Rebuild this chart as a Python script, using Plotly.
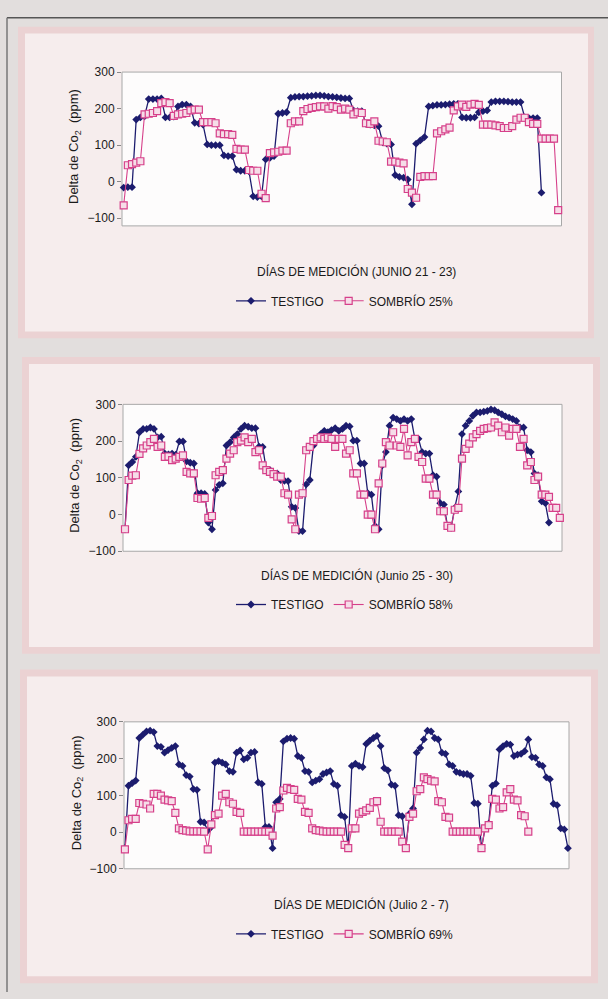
import plotly.graph_objects as go

# ---------------- data ----------------
p1_testigo = [-16, -15, -15, 170, 176, 179, 226, 226, 226, 228, 176, 176, 178, 206, 211, 211, 206,
              161, 159, 156, 102, 100, 100, 100, 72, 70, 70, 33, 30, 30, 28, -40, -42, -40, 61, 65, 70,
              186, 188, 190, 230, 232, 233, 233, 234, 235, 236, 236, 235, 233, 232, 231, 229, 228, 228,
              195, 193, 193, 158, 156, 154, 152, 108, 104, 102, 18, 13, 11, 6, -62, 104, 113, 122,
              206, 208, 210, 210, 211, 212, 213, 213, 176, 175, 175, 176, 190, 193, 195,
              218, 220, 220, 220, 219, 218, 218, 218, 176, 174, 174, 174, -30]
p1_sombrio = [-65, 45, 48, 52, 56, 184, 186, 188, 193, 215, 218, 215, 180, 184, 186, 188, 195, 197, 197,
              163, 163, 163, 160, 132, 130, 130, 128, 90, 88, 88, 32, 30, 30, -33, -45, 78, 80, 82, 85, 85,
              160, 165, 165, 193, 199, 202, 204, 206, 206, 200, 207, 204, 197, 200, 197, 184, 190, 188,
              160, 158, 165, 112, 110, 108, 55, 55, 52, 50, -20, -30, -44, 13, 15, 15, 15,
              132, 138, 143, 148, 195, 206, 211, 205, 211, 213, 210, 156, 156, 156, 154,
              152, 147, 147, 152, 170, 175, 175, 163, 158, 158, 118, 118, 118, 118, -78]

p2_testigo = [-40, 134, 143, 157, 224, 233, 233, 237, 233, 210, 212, 166, 164, 166, 163, 199, 199, 145,
              141, 139, 58, 58, 56, -22, -40, 67, 81, 85, 188, 197, 210, 219, 233, 242, 239, 235, 235,
              185, 184, 121, 121, 112, 112, 94, 92, 91, 21, 18, -45, -45, 82, 94, 188, 206, 219, 228,
              224, 230, 235, 228, 233,
              242, 240, 201, 201, 139, 139, 58, 54, -31, -40, 134, 170, 242, 264, 260, 255, 260, 255,
              260, 206, 206, 170, 166, 166, 107, 103, 31, 27, -31, -36, 18, 63, 219, 242, 255, 269, 278,
              278, 280, 282, 286, 284, 278, 273, 267, 264, 260, 255, 237, 237, 175, 170, 112, 107, 36,
              31, -22]
p2_sombrio = [-40, 94, 106, 107, 165, 180, 188, 197, 206, 184, 188, 157, 158, 148, 152, 157, 161, 116,
              112, 112, 45, 43, 45, -9, -4, 107, 116, 121, 152, 166, 175, 197, 201, 210, 197, 206, 170,
              175, 134, 121, 116, 110, 103, 103, 58, 54, -13, -40, 54, 58, 175, 184, 200, 206, 210, 206,
              210, 206, 184, 206, 206,
              166, 175, 112, 112, 54, 54, 0, 0, -40, 85, 139, 197, 188, 224, 188, 184, 233, 161, 197,
              206, 157, 143, 98, 98, 54, 54, 9, 9, -31, -36, 13, 18, 152, 179, 193, 210, 219, 228, 233,
              235, 237, 251, 242, 224, 237, 215, 233, 233, 184, 206, 134, 143, 94, 103, 54, 54, 48, 18,
              18, -9]

p3_testigo = [-44, 126, 133, 140, 256, 265, 274, 276, 272, 234, 232, 216, 223, 229, 234, 184, 180, 155,
              151, 117, 115, 28, 26, 4, 14, 189, 193, 189, 184, 166, 164, 216, 222, 198, 202, 216, 218,
              135, 131, 14, 14, -44, 81, 90, 247, 254, 256, 254, 207, 202, 166, 164, 135, 140, 144, 158,
              162, 166, 131, 126, 46, 41, -44,
              180, 186, 180, 177, 240, 249, 256, 262, 234, 174, 168, 129, 126, 46, 43, -44, 50, 64, 216,
              229, 252, 276, 274, 256, 252, 216, 213, 184, 180, 164, 161, 158, 158, 153, 79, 77, -44, 10,
              23, 126, 132, 225, 234, 240, 238, 207, 211, 213, 220, 252, 204, 202, 184, 180, 149, 144,
              77, 73, 10, 7, -44]
p3_sombrio = [-47, 32, 36, 36, 79, 77, 75, 64, 104, 104, 99, 88, 86, 84, 52, 10, 5, 4, 2, 2, 2, 2, 1,
              -47, 21, 46, 50, 99, 104, 81, 77, 55, 52, 1, 1, 1, 1, 1, 1, 1, 1, -10, 64, 68, 113, 120,
              117, 115, 90, 88, 55, 52, 10, 5, 4, 2, 1, 1, 1, 1, 1, -35, -44, 10, 10, 50, 55, 59, 66,
              81, 84, 28, 1, 1, 1, 1, 1, -26, -44, 41, 50, 111, 117, 149, 144, 140, 138, 84, 81, 41,
              39, 1, 1, 1, 1, 1, 1, 1, 1, -44, 10, 19, 90, 88, 64, 68, 108, 117, 88, 86, 46, 43, 1]

y_ticks = [-100, 0, 100, 200, 300]
x_titles = ["DÍAS DE MEDICIÓN (JUNIO 21 - 23)", "DÍAS DE MEDICIÓN (Junio 25 - 30)",
            "DÍAS DE MEDICIÓN (Julio 2 - 7)"]
shade_names = ["SOMBRÍO 25%", "SOMBRÍO 58%", "SOMBRÍO 69%"]
y_title = "Delta de Co<sub>2</sub>  (ppm)"

# ---------------- layout helpers ----------------
W, H = 608, 999
FONT = "Liberation Sans, Arial, sans-serif"


def fx(px):
    return px / W


def fy(py):
    return 1 - py / H


panels = [
    dict(t=p1_testigo, s=p1_sombrio, x0=122, x1=561.5, y0=66, y1=222, yr=[-121, 300], xr=[-0.4, 104.8],
         box=(18, 20, 594, 336), inner=(25, 27, 588, 329), xt=268, lg=298, ytx=74),
    dict(t=p2_testigo, s=p2_sombrio, x0=123, x1=562, y0=403, y1=552, yr=[-100, 300], xr=[-0.55, 120.6],
         box=(22, 355, 600, 656), inner=(29, 362, 593, 649), xt=577, lg=606, ytx=76),
    dict(t=p3_testigo, s=p3_sombrio, x0=124, x1=569, y0=725, y1=874, yr=[-100, 300], xr=[-0.25, 123.3],
         box=(20, 672, 598, 990), inner=(27, 679, 591, 983), xt=910, lg=940, ytx=77),
]

BLUE = "#1c1c6e"
PINK = "#d6408a"

fig = go.Figure()
shapes = []
annotations = []
layout_axes = {}

# page frame lines
shapes.append(dict(type="line", xref="paper", yref="paper", x0=fx(7), x1=1, y0=fy(11), y1=fy(11),
                   line=dict(color="#555555", width=1.5), layer="below"))
shapes.append(dict(type="line", xref="paper", yref="paper", x0=fx(7), x1=fx(7), y0=fy(11), y1=0,
                   line=dict(color="#777777", width=1.5), layer="below"))

for k, p in enumerate(panels):
    n = k + 1
    xa = "xaxis" if n == 1 else f"xaxis{n}"
    ya = "yaxis" if n == 1 else f"yaxis{n}"
    xr_ = "x" if n == 1 else f"x{n}"
    yr_ = "y" if n == 1 else f"y{n}"
    lg = "legend" if n == 1 else f"legend{n}"

    bx0, by0, bx1, by1 = p["box"]
    shapes.append(dict(type="rect", xref="paper", yref="paper", x0=fx(bx0), x1=fx(bx1),
                       y0=fy(by1), y1=fy(by0), fillcolor="#ebd2d3", line=dict(width=0), layer="below"))
    ix0, iy0, ix1, iy1 = p["inner"]
    shapes.append(dict(type="rect", xref="paper", yref="paper", x0=fx(ix0), x1=fx(ix1),
                       y0=fy(iy1), y1=fy(iy0), fillcolor="#f6eded", line=dict(width=0), layer="below"))
    shapes.append(dict(type="rect", xref="paper", yref="paper", x0=fx(p["x0"]), x1=fx(p["x1"]),
                       y0=fy(p["y1"]), y1=fy(p["y0"]), fillcolor="#fdfcfc",
                       line=dict(color="#a8a8a8", width=1), layer="below"))

    fig.add_trace(go.Scatter(x=list(range(len(p["t"]))), y=p["t"], name="TESTIGO", mode="lines+markers",
                             line=dict(color=BLUE, width=1.3),
                             marker=dict(symbol="diamond", size=6, color=BLUE),
                             xaxis=xr_, yaxis=yr_, legend=lg, cliponaxis=False))
    fig.add_trace(go.Scatter(x=list(range(len(p["s"]))), y=p["s"], name=shade_names[k],
                             mode="lines+markers",
                             line=dict(color=PINK, width=1.1),
                             marker=dict(symbol="square", size=7, color="#f6dde8",
                                         line=dict(color=PINK, width=1.2)),
                             xaxis=xr_, yaxis=yr_, legend=lg, cliponaxis=False))

    layout_axes[xa] = dict(domain=[fx(p["x0"]), fx(p["x1"])], range=p["xr"], showticklabels=False,
                           showgrid=False, zeroline=False, ticks="", showline=False,
                           anchor=yr_, fixedrange=True)
    layout_axes[ya] = dict(domain=[fy(p["y1"]), fy(p["y0"])], range=p["yr"], tickvals=y_ticks,
                           showgrid=False, zeroline=False, ticks="outside", ticklen=4,
                           tickcolor="#888888", showline=False, anchor=xr_,
                           tickfont=dict(family=FONT, size=12, color="#1a1a1a"), fixedrange=True)

    annotations.append(dict(text=y_title, xref="paper", yref="paper", x=fx(p["ytx"]),
                            y=fy((p["y0"] + p["y1"]) / 2 - 2), textangle=-90, showarrow=False,
                            font=dict(family=FONT, size=13, color="#1a1a1a"),
                            xanchor="center", yanchor="middle"))
    annotations.append(dict(text=x_titles[k], xref="paper", yref="paper",
                            x=fx((p["x0"] + p["x1"]) / 2 + 15), y=fy(p["xt"]), showarrow=False,
                            font=dict(family=FONT, size=12, color="#1a1a1a"),
                            xanchor="center", yanchor="middle"))
    layout_axes[lg] = dict(orientation="h", x=fx(345), y=fy(p["lg"]), xanchor="center",
                           yanchor="middle", bgcolor="rgba(0,0,0,0)",
                           font=dict(family=FONT, size=12, color="#1a1a1a"),
                           itemwidth=30, tracegroupgap=0)

fig.update_layout(
    width=W, height=H, margin=dict(l=0, r=0, t=0, b=0),
    paper_bgcolor="#e2dedd", plot_bgcolor="rgba(0,0,0,0)",
    shapes=shapes, annotations=annotations, showlegend=True,
    font=dict(family=FONT), **layout_axes,
)

fig.write_html("out.html")
